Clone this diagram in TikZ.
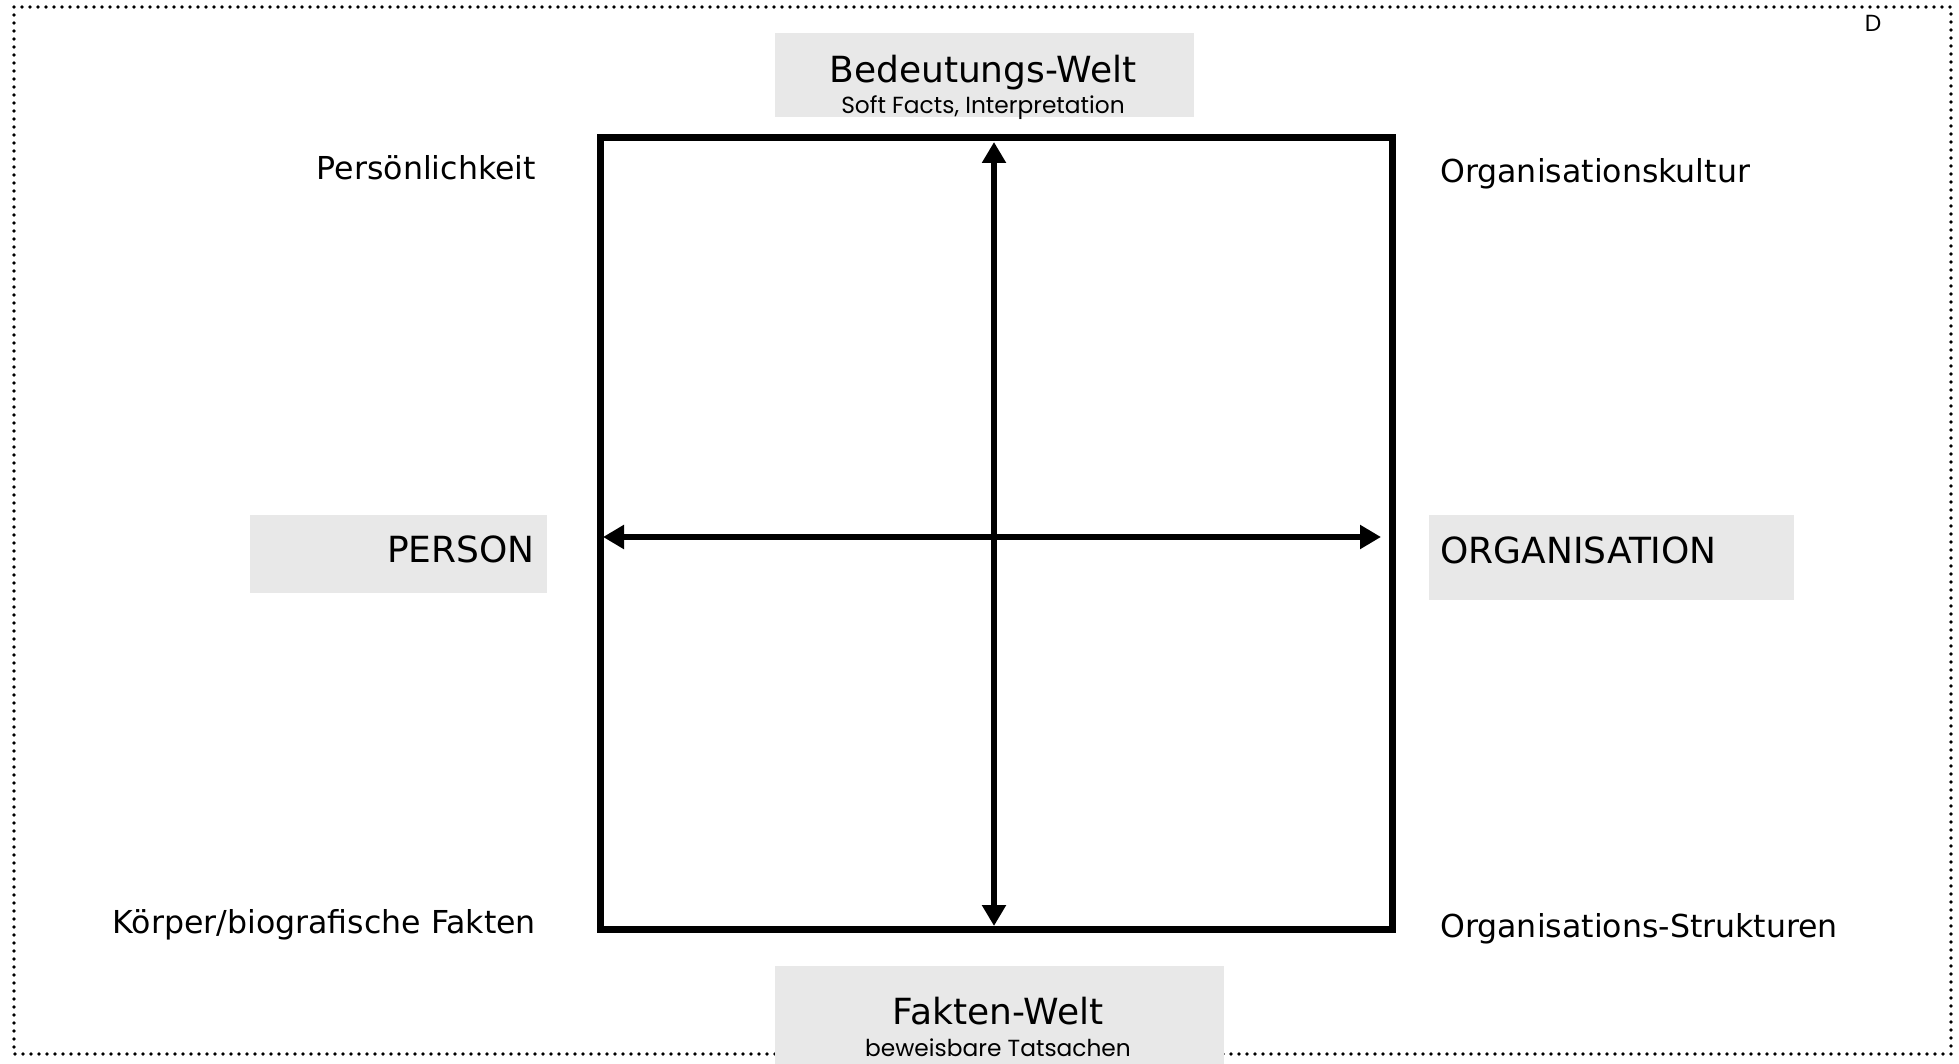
\documentclass[tikz,border=0pt]{standalone}
\usepackage{fontspec}
\setmainfont{DejaVu Sans}
\newfontfamily\geofont{Poppins}
\definecolor{boxgray}{RGB}{232,232,232}
\usepackage{tikz}
\usetikzlibrary{arrows.meta}
\usepackage{xcolor}

\begin{document}
\begin{tikzpicture}[x=1pt, y=-1pt,
  greybox/.style={fill=boxgray, inner sep=0pt, outer sep=0pt, anchor=north west},
  title/.style={font=\fontsize{36}{42}\selectfont, inner sep=0pt},
  subtitle/.style={font=\geofont\fontsize{23.3}{28}\selectfont, inner sep=0pt},
  corner/.style={font=\fontsize{31.6}{36}\selectfont, inner sep=0pt},
  axis/.style={line width=6pt, {Triangle[width=23pt,length=21pt]}-{Triangle[width=23pt,length=21pt]}}]
  \useasboundingbox (0,0) rectangle (1959,1064);
  %% 1. Frame
  \draw[line width=3.6pt, line cap=round, dash pattern=on 0pt off 8pt] (14,7) rectangle (1951,1054);
  \node[subtitle] (corner) at (1873,23) {D};
  %% 2. Grey boxes
  \node[greybox, minimum width=419pt, minimum height=84pt] (bedbox) at (775,33) {};
  \node[greybox, minimum width=449pt, minimum height=98pt] (faktbox) at (775,966) {};
  \node[greybox, minimum width=297pt, minimum height=78pt] (personbox) at (250,515) {};
  \node[greybox, minimum width=365pt, minimum height=85pt] (orgbox) at (1429,515) {};
  %% 3. Titles
  \node[title, anchor=base] (bedtitle) at (983,83) {Bedeutungs-Welt};
  \node[subtitle, anchor=base] (bedsub) at (983,114) {Soft Facts, Interpretation};
  \node[title, anchor=base] (fakttitle) at (998,1024) {Fakten-Welt};
  \node[subtitle, anchor=base] (faktsub) at (998,1056) {beweisbare Tatsachen};
  \node[title, anchor=base east] (person) at (535,562) {PERSON};
  \node[title, anchor=base west] (org) at (1440,563) {ORGANISATION};
  %% 4. Corner labels
  \node[corner, anchor=base east] (pers) at (536,180) {Persönlichkeit};
  \node[corner, anchor=base east] (koerper) at (536,933) {Körper/biografische Fakten};
  \node[corner, anchor=base west] (kultur) at (1440,183) {Organisationskultur};
  \node[corner, anchor=base west] (struktur) at (1440,937) {Organisations-Strukturen};
  %% 5. Square and arrows
  \node[draw, line width=7pt, minimum width=792pt, minimum height=791pt, inner sep=0pt, outer sep=0pt, anchor=north west] (quad) at (600,138) {};
  \coordinate (vtop) at (994,142);
  \coordinate (vbot) at (994,926);
  \coordinate (hleft) at (603,537);
  \coordinate (hright) at (1381,537);
  \draw[axis] (vbot) -- (vtop);
  \draw[axis] (hleft) -- (hright);
\end{tikzpicture}
\end{document}
